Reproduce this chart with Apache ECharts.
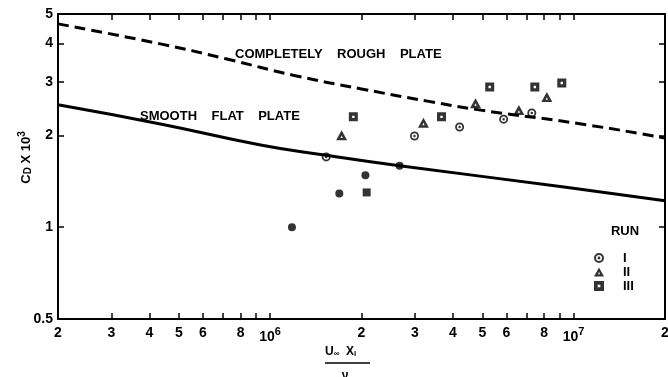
<!DOCTYPE html>
<html>
<head>
<meta charset="utf-8">
<script src="https://cdn.jsdelivr.net/npm/echarts@6.0.0/dist/echarts.min.js"></script>
<style>
  html, body { margin: 0; padding: 0; background: #fff; }
  #chart { width: 668px; height: 377px; }
</style>
</head>
<body>
<div id="chart"></div>
<script>
// tick positions (log axes)
const xTicks = [2e5, 3e5, 4e5, 5e5, 6e5, 7e5, 8e5, 9e5, 1e6, 2e6, 3e6, 4e6, 5e6, 6e6, 7e6, 8e6, 9e6, 1e7, 2e7];
const xLabels = [2e5, 3e5, 4e5, 5e5, 6e5, 8e5, 1e6, 2e6, 3e6, 4e6, 5e6, 6e6, 8e6, 1e7, 2e7];
const yTicks = [0.5, 1, 2, 3, 4, 5];

// reference curves [Re, Cd x 10^3]
const smoothPlate = [[2e5, 2.52], [4.35e5, 2.18], [9.3e5, 1.86], [1.53e6, 1.72], [2.67e6, 1.59], [9.3e6, 1.355], [2e7, 1.22]];
const roughPlate = [[2e5, 4.64], [4.35e5, 3.99], [7.2e5, 3.56], [1.19e6, 3.15], [2e6, 2.84], [3.3e6, 2.59], [4.94e6, 2.42], [1.06e7, 2.18], [2e7, 1.96]];

// measured runs
const run1 = [[1.53e6, 1.70], [2.99e6, 1.99], [4.21e6, 2.13], [5.88e6, 2.26], [7.28e6, 2.37]];
const run2 = [[1.72e6, 2.00], [3.2e6, 2.20], [4.75e6, 2.55], [6.6e6, 2.42], [8.16e6, 2.67]];
const run3 = [[1.88e6, 2.30], [3.67e6, 2.30], [5.29e6, 2.88], [7.45e6, 2.88], [9.14e6, 2.97]];
const filledDots = [[1.18e6, 1.00], [1.69e6, 1.29], [2.06e6, 1.48], [2.67e6, 1.59]];
const filledSquares = [[2.08e6, 1.30]];

const FONT = '"Liberation Sans", Arial, sans-serif';

// open symbols with a dot / small hole in the middle
const ringDot = 'path://M10 0A10 10 0 1 1 10 20A10 10 0 1 1 10 0ZM10 4A6 6 0 1 0 10 16A6 6 0 1 0 10 4ZM10 7.2A2.8 2.8 0 1 1 10 12.8A2.8 2.8 0 1 1 10 7.2Z';
const triDot = 'path://M10 0L20 18L0 18ZM10 9.2L7.9 13.6L12.1 13.6Z';
const squareDot = 'path://M0 0L20 0L20 20L0 20ZM7.3 7.3L7.3 12.7L12.7 12.7L12.7 7.3Z';

const xFormatter = (v) => {
  const e = Math.round(Math.log10(v));
  if (Math.abs(v / Math.pow(10, e) - 1) < 1e-6) return '{b|10}{sup|' + e + '}';
  return String(Math.round(v / Math.pow(10, Math.floor(Math.log10(v) + 1e-9))));
};

const chart = echarts.init(document.getElementById('chart'), null, { renderer: 'canvas' });

const axisLine = { show: true, lineStyle: { color: '#000', width: 2 } };

const option = {
  backgroundColor: '#fff',
  animation: false,
  grid: { left: 58, right: 3, top: 14, bottom: 58, outerBoundsMode: 'none' },
  xAxis: [
    {
      type: 'log', logBase: 10, min: 2e5, max: 2e7,
      axisLine: axisLine,
      splitLine: { show: false },
      axisTick: { inside: true, length: 6, customValues: xTicks, lineStyle: { color: '#000', width: 1.5 } },
      axisLabel: {
        customValues: xLabels,
        formatter: xFormatter,
        margin: 7,
        color: '#000', fontFamily: FONT, fontWeight: 'bold', fontSize: 14,
        rich: {
          b: { color: '#000', fontFamily: FONT, fontWeight: 'bold', fontSize: 14, padding: [4, 0, 0, 0] },
          sup: { color: '#000', fontFamily: FONT, fontWeight: 'bold', fontSize: 11, verticalAlign: 'top' }
        }
      }
    },
    {
      type: 'log', logBase: 10, min: 2e5, max: 2e7, position: 'top',
      axisLine: axisLine,
      splitLine: { show: false },
      axisTick: { inside: true, length: 6, customValues: xTicks, lineStyle: { color: '#000', width: 1.5 } },
      axisLabel: { show: false }
    }
  ],
  yAxis: [
    {
      type: 'log', logBase: 10, min: 0.5, max: 5,
      axisLine: axisLine,
      splitLine: { show: false },
      axisTick: { inside: true, length: 6, customValues: yTicks, lineStyle: { color: '#000', width: 1.5 } },
      axisLabel: {
        customValues: yTicks,
        formatter: (v) => String(v),
        margin: 5,
        color: '#000', fontFamily: FONT, fontWeight: 'bold', fontSize: 14
      },
      name: '{c|C}{sub|D}{c| X 10}{sup|3}',
      nameLocation: 'middle',
      nameGap: 25,
      nameMoveOverlap: false,
      nameTextStyle: {
        padding: [0, 0, 0, 18],
        rich: {
          c: { color: '#000', fontFamily: FONT, fontWeight: 'bold', fontSize: 13, padding: [3, 0, 0, 0] },
          sub: { color: '#000', fontFamily: FONT, fontWeight: 'bold', fontSize: 10, verticalAlign: 'bottom' },
          sup: { color: '#000', fontFamily: FONT, fontWeight: 'bold', fontSize: 10, verticalAlign: 'top' }
        }
      }
    },
    {
      type: 'log', logBase: 10, min: 0.5, max: 5, position: 'right',
      axisLine: axisLine,
      splitLine: { show: false },
      axisTick: { inside: true, length: 6, customValues: yTicks, lineStyle: { color: '#000', width: 1.5 } },
      axisLabel: { show: false }
    }
  ],
  legend: {
    data: ['I', 'II', 'III'],
    orient: 'vertical',
    left: 589,
    top: 246,
    itemWidth: 10,
    itemHeight: 10,
    itemGap: 0,
    textStyle: { color: '#000', fontFamily: FONT, fontWeight: 'bold', fontSize: 13, lineHeight: 14, padding: [0, 0, 0, 14] }
  },
  graphic: [
    { type: 'text', x: 235, y: 54, style: { text: 'COMPLETELY    ROUGH    PLATE', font: 'bold 13px ' + FONT, fill: '#000', verticalAlign: 'middle' } },
    { type: 'text', x: 140, y: 116, style: { text: 'SMOOTH    FLAT    PLATE', font: 'bold 13px ' + FONT, fill: '#000', verticalAlign: 'middle' } },
    { type: 'text', x: 625, y: 231, style: { text: 'RUN', font: 'bold 13px ' + FONT, fill: '#000', align: 'center', verticalAlign: 'middle' } },
    {
      type: 'text', x: 325, y: 352,
      style: {
        text: '{m|U}{s|∞}  {m|X}{s|l}', verticalAlign: 'middle',
        rich: {
          m: { font: 'bold 12px ' + FONT, fill: '#000' },
          s: { font: 'bold 8px ' + FONT, fill: '#000', verticalAlign: 'bottom' }
        }
      }
    },
    { type: 'line', shape: { x1: 325, y1: 363, x2: 370, y2: 363 }, style: { stroke: '#000', lineWidth: 1.5 } },
    { type: 'text', x: 345, y: 376, style: { text: 'ν', font: 'bold 12px ' + FONT, fill: '#000', align: 'center', verticalAlign: 'middle' } }
  ],
  series: [
    {
      name: 'completely rough plate', type: 'line', data: roughPlate, smooth: 0.5,
      showSymbol: false, silent: true,
      lineStyle: { color: '#000', width: 3, type: [11, 6], cap: 'butt' }
    },
    {
      name: 'smooth flat plate', type: 'line', data: smoothPlate, smooth: 0.5,
      showSymbol: false, silent: true,
      lineStyle: { color: '#000', width: 3 }
    },
    { name: 'I', type: 'scatter', data: run1, symbol: ringDot, symbolSize: 9, itemStyle: { color: '#000' } },
    { name: 'II', type: 'scatter', data: run2, symbol: triDot, symbolSize: [11, 10], itemStyle: { color: '#000' } },
    { name: 'III', type: 'scatter', data: run3, symbol: squareDot, symbolSize: 9, itemStyle: { color: '#000' } },
    { name: 'filled', type: 'scatter', data: filledDots, symbol: 'circle', symbolSize: 8, itemStyle: { color: '#000' } },
    { name: 'filled square', type: 'scatter', data: filledSquares, symbol: 'rect', symbolSize: 8, itemStyle: { color: '#000' } }
  ]
};

chart.setOption(option);
</script>
</body>
</html>
